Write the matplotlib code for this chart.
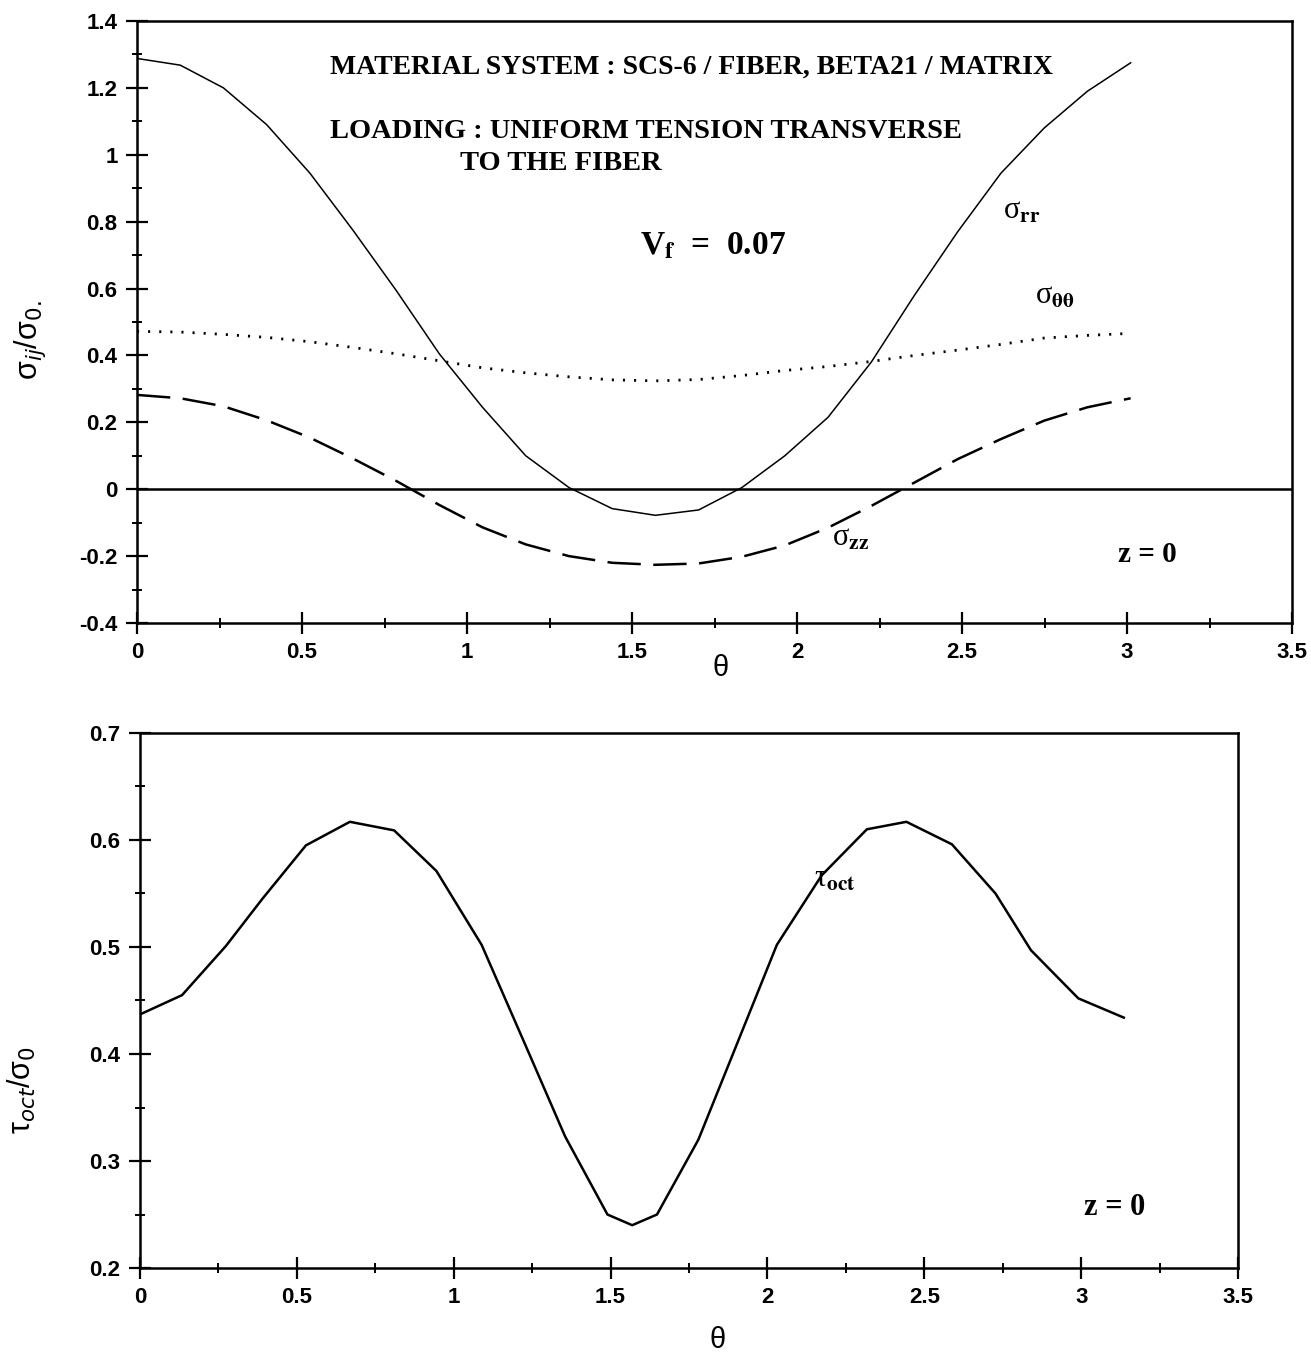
import numpy as np
import matplotlib
matplotlib.use("Agg")
import matplotlib.pyplot as plt
from matplotlib.ticker import MultipleLocator, FuncFormatter

plt.rcParams['lines.scale_dashes'] = False
plt.rcParams['font.family'] = ['Liberation Sans', 'DejaVu Sans']
plt.rcParams['mathtext.fontset'] = 'dejavusans'

# ---------------- data ----------------
theta_top = [0.000, 0.131, 0.262, 0.393, 0.524, 0.654, 0.785, 0.916, 1.047, 1.178,
             1.309, 1.440, 1.571, 1.702, 1.833, 1.963, 2.094, 2.225, 2.356, 2.487,
             2.618, 2.749, 2.880, 3.011]
sigma_rr = [1.288, 1.268, 1.200, 1.090, 0.945, 0.775, 0.595, 0.405, 0.245, 0.100,
            0.005, -0.058, -0.078, -0.062, 0.005, 0.100, 0.215, 0.380, 0.580, 0.770,
            0.945, 1.080, 1.190, 1.275]
sigma_tt = [0.472, 0.470, 0.463, 0.454, 0.441, 0.424, 0.405, 0.384, 0.363, 0.348,
            0.336, 0.327, 0.324, 0.328, 0.340, 0.355, 0.367, 0.382, 0.400, 0.416,
            0.433, 0.452, 0.460, 0.466]
sigma_zz = [0.282, 0.272, 0.248, 0.206, 0.154, 0.092, 0.025, -0.047, -0.114, -0.165,
            -0.200, -0.220, -0.226, -0.222, -0.202, -0.168, -0.115, -0.050, 0.020, 0.090,
            0.150, 0.205, 0.245, 0.272]

theta_bot = [0.000, 0.134, 0.274, 0.390, 0.529, 0.669, 0.810, 0.945, 1.089, 1.235,
             1.355, 1.490, 1.569, 1.648, 1.780, 1.890, 2.030, 2.173, 2.317, 2.443,
             2.588, 2.727, 2.840, 2.991, 3.136]
tau_oct = [0.437, 0.455, 0.501, 0.545, 0.595, 0.617, 0.609, 0.571, 0.502, 0.404,
           0.323, 0.250, 0.240, 0.250, 0.320, 0.400, 0.502, 0.567, 0.610, 0.617,
           0.596, 0.550, 0.497, 0.452, 0.434]

top_ylim = (-0.4, 1.4)
bot_ylim = (0.2, 0.7)
xlim = (0, 3.5)

# ---------------- figure ----------------
W, H = 1311, 1362
fig = plt.figure(figsize=(W / 100, H / 100), dpi=100)

def px_axes(l, t, r, b):
    return fig.add_axes([l / W, 1 - b / H, (r - l) / W, (b - t) / H])

ax1 = px_axes(137, 21, 1292, 623)
ax2 = px_axes(140, 733, 1238, 1268)

fmt = FuncFormatter(lambda v, p: ('%g' % round(v, 3)))

for ax in (ax1, ax2):
    for s in ax.spines.values():
        s.set_linewidth(1.8)
    ax.tick_params(which='major', direction='inout', length=16, width=1.6,
                   top=False, right=False, labelsize=16, pad=6)
    ax.tick_params(which='minor', direction='inout', length=7, width=1.4,
                   top=False, right=False)
    ax.xaxis.set_major_locator(MultipleLocator(0.5))
    ax.xaxis.set_minor_locator(MultipleLocator(0.25))
    ax.xaxis.set_major_formatter(fmt)
    ax.yaxis.set_major_formatter(fmt)
    ax.set_xlim(*xlim)

serif_b = dict(family=['Liberation Serif', 'DejaVu Serif'], fontweight='bold', color='black')
serif_r = dict(family=['Liberation Serif', 'DejaVu Serif'], color='black')

# ---- top plot ----
ax1.set_ylim(*top_ylim)
ax1.yaxis.set_major_locator(MultipleLocator(0.2))
ax1.yaxis.set_minor_locator(MultipleLocator(0.1))
ax1.axhline(0, color='black', lw=1.8)
ax1.plot(theta_top, sigma_rr, color='black', lw=1.1, ls='-')
ax1.plot(theta_top, sigma_tt, color='black', lw=2.0, ls=(0, (1.5, 6.5)))
ax1.plot(theta_top, sigma_zz, color='black', lw=1.8, ls=(0, (24, 9)))

ax1.text(0.585, 1.263, 'MATERIAL SYSTEM : SCS-6 / FIBER, BETA21 / MATRIX',
         fontsize=20, ha='left', va='center', **serif_b)
ax1.text(0.585, 1.069, 'LOADING : UNIFORM TENSION TRANSVERSE',
         fontsize=20.5, ha='left', va='center', **serif_b)
ax1.text(0.979, 0.973, 'TO THE FIBER',
         fontsize=20.5, ha='left', va='center', **serif_b)
ax1.text(1.524, 0.728, r'V$_{\mathbf{f}}$  =  0.07',
         fontsize=24, ha='left', va='center', math_fontfamily='stix', **serif_b)
ax1.text(2.624, 0.83, r'σ$_{\mathbf{rr}}$', fontsize=22, ha='left', va='center',
         math_fontfamily='stix', **serif_r)
ax1.text(2.72, 0.576, r'σ$_{\mathbf{\theta\theta}}$', fontsize=22, ha='left', va='center',
         math_fontfamily='stix', **serif_r)
ax1.text(2.106, -0.146, r'σ$_{\mathbf{zz}}$', fontsize=22, ha='left', va='center',
         math_fontfamily='stix', **serif_r)
ax1.text(2.973, -0.194, 'z = 0', fontsize=21, ha='left', va='center', **serif_b)

ax1.set_xlabel('θ', fontsize=21)
ax1.xaxis.set_label_coords(0.505, -0.075)
ax1.xaxis.label.set_va('center')
ax1.set_ylabel(r'σ$_{ij}$/σ$_{0.}$', fontsize=22)
ax1.yaxis.set_label_coords(-0.093, 0.47)
ax1.yaxis.label.set_va('center')

# ---- bottom plot ----
ax2.set_ylim(*bot_ylim)
ax2.yaxis.set_major_locator(MultipleLocator(0.1))
ax2.yaxis.set_minor_locator(MultipleLocator(0.05))
ax2.plot(theta_bot, tau_oct, color='black', lw=1.8, ls='-')
ax2.text(2.15, 0.563, r'τ$_{\mathbf{oct}}$', fontsize=22, ha='left', va='center',
         math_fontfamily='stix', **serif_r)
ax2.text(3.01, 0.257, 'z = 0', fontsize=22, ha='left', va='center', **serif_b)

ax2.set_xlabel('θ', fontsize=21)
ax2.xaxis.set_label_coords(0.526, -0.135)
ax2.xaxis.label.set_va('center')
ax2.set_ylabel(r'τ$_{oct}$/σ$_{0}$', fontsize=22)
ax2.yaxis.set_label_coords(-0.1075, 0.333)
ax2.yaxis.label.set_va('center')

for ax in (ax1, ax2):
    for lab in ax.get_xticklabels() + ax.get_yticklabels():
        lab.set_fontweight('bold')

fig.savefig('out.png', dpi=100, facecolor='white')
